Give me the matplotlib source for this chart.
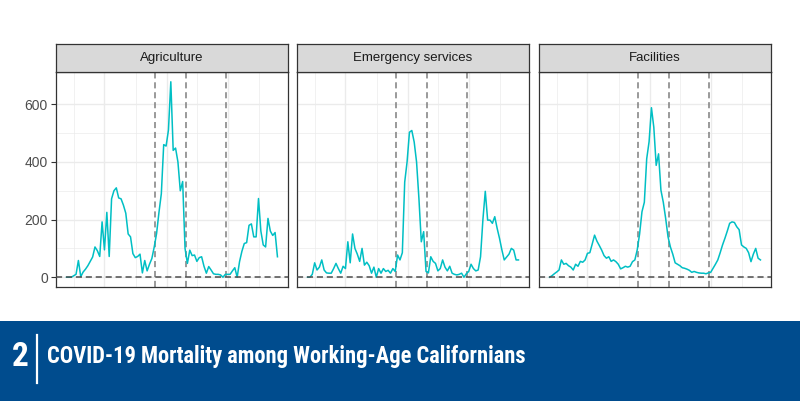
import numpy as np
import pandas as pd
import matplotlib
matplotlib.use("Agg")
import matplotlib.pyplot as plt
import matplotlib.dates as mdates
from matplotlib import font_manager
from matplotlib.patches import Rectangle
from matplotlib.lines import Line2D

plt.rcParams["font.family"] = ["Liberation Sans", "DejaVu Sans"]

# ---------------- data ----------------
facets = ["Agriculture", "Emergency services", "Facilities"]
start_date = "2020-03-11"
n_weeks = 90

agriculture = [0, 0, 0, 5, 10, 58, 2, 18, 28, 40,
               55, 70, 105, 92, 72, 192, 95, 225, 72, 272,
               300, 310, 275, 272, 250, 222, 150, 140, 82, 68,
               72, 80, 15, 58, 22, 45, 65, 105, 152, 225,
               290, 460, 455, 510, 678, 440, 448, 400, 300, 332,
               100, 48, 94, 75, 77, 55, 68, 71, 38, 14,
               37, 25, 12, 10, 10, 8, 0, 10, 10, 10,
               22, 33, 0, 54, 90, 117, 120, 180, 185, 140,
               140, 273, 160, 112, 105, 204, 160, 145, 155, 71]

emergency = [0, 0, 10, 50, 25, 35, 60, 25, 15, 14,
             14, 30, 48, 30, 14, 38, 30, 123, 50, 150,
             100, 80, 55, 100, 42, 52, 40, 14, 35, 0,
             30, 14, 30, 20, 24, 14, 30, 20, 77, 60,
             85, 330, 400, 503, 509, 469, 400, 273, 123, 158,
             20, 15, 71, 55, 48, 22, 30, 60, 35, 22,
             38, 14, 10, 8, 10, 14, 0, 12, 20, 45,
             30, 22, 25, 71, 200, 298, 198, 198, 187, 210,
             170, 135, 95, 60, 70, 80, 100, 94, 60, 60]

facilities = [0, 5, 12, 18, 25, 60, 45, 48, 40, 35,
              25, 45, 38, 55, 52, 60, 83, 85, 115, 146,
              125, 110, 94, 75, 66, 71, 55, 60, 54, 45,
              29, 33, 38, 35, 38, 54, 60, 95, 150, 227,
              260, 411, 470, 588, 520, 388, 428, 302, 260, 204,
              140, 105, 80, 50, 45, 40, 33, 31, 28, 24,
              17, 20, 17, 15, 14, 14, 12, 15, 17, 31,
              45, 60, 85, 112, 135, 160, 187, 192, 190, 175,
              165, 112, 105, 100, 85, 54, 80, 100, 66, 60]

series = [agriculture, emergency, facilities]
event_dates = ["2020-11-28", "2021-02-27", "2021-06-26"]
y_ticks = [0, 200, 400, 600]
y_minor = [100, 300, 500]
x_major_dates = ["2020-07-01", "2021-01-01", "2021-07-01"]
x_minor_dates = ["2020-04-01", "2020-10-01", "2021-04-01", "2021-10-01"]
title_number = "2"
title_text = "COVID-19 Mortality among Working-Age Californians"

# ---------------- figure ----------------
W, H = 800, 401
fig = plt.figure(figsize=(W / 100, H / 100), dpi=100)
fig.patch.set_facecolor("white")

def fx(px):
    return px / W

def fy(py):
    return 1 - py / H

dates = pd.date_range(start_date, periods=n_weeks, freq="7D")
xnum = mdates.date2num(dates)
span = xnum[-1] - xnum[0]
xlim = (xnum[0] - 0.05 * span, xnum[-1] + 0.05 * span)
allmax = max(max(s) for s in series)
ylim = (0 - 0.05 * allmax, allmax * 1.05)

panel_lefts = [56, 297, 539]
panel_w = 232
panel_top, panel_bot = 72, 287
strip_top = 44

grid_col = "#EBEBEB"
border_col = "#333333"
line_col = "#00BFC4"

for i, (name, vals) in enumerate(zip(facets, series)):
    left = panel_lefts[i]
    ax = fig.add_axes([fx(left), fy(panel_bot), panel_w / W, (panel_bot - panel_top) / H])
    ax.set_xlim(xlim)
    ax.set_ylim(ylim)
    for d in x_minor_dates:
        ax.axvline(mdates.date2num(pd.Timestamp(d)), color=grid_col, lw=0.5, zorder=0)
    for d in x_major_dates:
        ax.axvline(mdates.date2num(pd.Timestamp(d)), color=grid_col, lw=1.0, zorder=0)
    for v in y_minor:
        ax.axhline(v, color=grid_col, lw=0.5, zorder=0)
    for v in y_ticks:
        ax.axhline(v, color=grid_col, lw=1.0, zorder=0)
    ax.plot(xnum, vals, color=line_col, lw=1.1, zorder=3)
    for d in event_dates:
        ax.axvline(mdates.date2num(pd.Timestamp(d)), color="#7F7F7F", lw=1.1,
                   linestyle=(0, (4, 2.5)), zorder=2)
    ax.axhline(0, color="#4D4D4D", lw=1.1, linestyle=(0, (4, 2.5)), zorder=4)
    for s in ax.spines.values():
        s.set_color(border_col)
        s.set_linewidth(0.9)
    ax.set_xticks([])
    ax.set_yticks(y_ticks)
    if i == 0:
        ax.set_yticklabels([str(v) for v in y_ticks])
        ax.tick_params(axis="y", length=3.4, width=0.8, color=border_col,
                       labelcolor="#4D4D4D", labelsize=10, pad=2.5)
    else:
        ax.tick_params(axis="y", length=0, labelleft=False)
    ax.set_facecolor("white")

    sax = fig.add_axes([fx(left), fy(panel_top), panel_w / W, (panel_top - strip_top) / H])
    sax.set_facecolor("#D9D9D9")
    sax.set_xticks([])
    sax.set_yticks([])
    for s in sax.spines.values():
        s.set_color(border_col)
        s.set_linewidth(0.9)
    sax.text(0.5, 0.5, name, ha="center", va="center", fontsize=9.5,
             color="#1A1A1A", transform=sax.transAxes)

# ---------------- banner ----------------
banner_top = 321
fig.patches.append(Rectangle((0, 0), 1, fy(banner_top), transform=fig.transFigure,
                             facecolor="#004C8E", edgecolor="none", zorder=0))

title_font = "Roboto Condensed"

fig.lines.append(Line2D([fx(37), fx(37)], [fy(383), fy(335)], transform=fig.transFigure,
                        color="white", lw=1.6))
fig.text(fx(20), fy(357), title_number, ha="center", va="center", color="white",
         fontsize=24, fontweight="bold", family=title_font)
t = fig.text(fx(47), fy(357), title_text, ha="left", va="center", color="white",
             fontsize=22, fontweight="bold", family=title_font)
renderer = fig.canvas.get_renderer()
wpx = t.get_window_extent(renderer).width
t.set_fontsize(22 * 480 / wpx)

fig.savefig("out.png", dpi=100, facecolor="white")
